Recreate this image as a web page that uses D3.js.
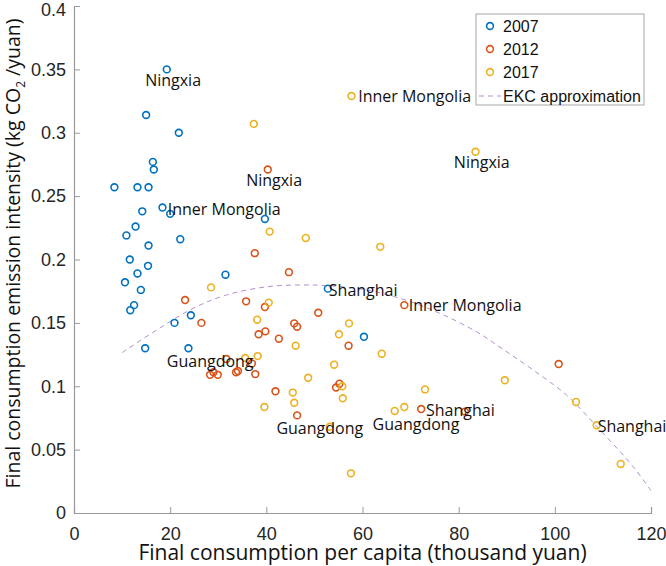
<!DOCTYPE html>
<html>
<head>
<meta charset="utf-8">
<script src="https://cdn.jsdelivr.net/npm/d3@7/dist/d3.min.js"></script>
<style>
  html, body { margin: 0; padding: 0; background: #fff; }
  svg { display: block; }
</style>
</head>
<body>
<svg id="chart" width="666" height="566"></svg>
<script>
// ---------- data ----------
const series2007x = [19.3, 15.0, 21.8, 16.4, 16.6, 8.4, 13.2, 15.5, 14.2, 18.4, 20.0, 39.7, 12.8, 10.9, 22.1, 15.5, 11.6, 15.4, 13.2, 10.6, 31.5, 13.9, 12.5, 11.7, 24.3, 20.9, 14.8, 23.8, 52.8, 60.3];
const series2007y = [0.350, 0.314, 0.300, 0.277, 0.271, 0.257, 0.257, 0.257, 0.238, 0.241, 0.236, 0.232, 0.226, 0.219, 0.216, 0.211, 0.200, 0.195, 0.189, 0.182, 0.188, 0.176, 0.164, 0.160, 0.156, 0.150, 0.130, 0.130, 0.177, 0.139];

const series2012x = [40.3, 37.6, 44.7, 23.1, 35.8, 39.7, 26.5, 45.8, 46.4, 38.4, 39.8, 42.6, 31.7, 37.0, 28.3, 29.0, 29.9, 33.7, 34.1, 37.7, 41.9, 46.4, 68.7, 50.8, 57.1, 54.5, 55.2, 72.2, 81.3, 100.8];
const series2012y = [0.271, 0.205, 0.190, 0.168, 0.167, 0.1625, 0.150, 0.1496, 0.147, 0.141, 0.1433, 0.1375, 0.1215, 0.118, 0.109, 0.111, 0.109, 0.111, 0.112, 0.1096, 0.096, 0.077, 0.164, 0.158, 0.132, 0.099, 0.102, 0.082, 0.080, 0.1175];

const series2017x = [37.4, 40.7, 57.7, 83.5, 48.2, 63.7, 28.5, 40.5, 38.1, 57.2, 55.1, 46.1, 64.0, 54.1, 48.7, 55.8, 45.5, 45.8, 39.6, 55.9, 73.0, 66.7, 68.7, 53.2, 57.6, 89.6, 104.4, 108.7, 113.7, 35.6, 38.2];
const series2017y = [0.307, 0.222, 0.329, 0.285, 0.217, 0.210, 0.178, 0.166, 0.1525, 0.1496, 0.141, 0.132, 0.1257, 0.117, 0.1067, 0.100, 0.095, 0.087, 0.0836, 0.0905, 0.0975, 0.0805, 0.0836, 0.068, 0.0313, 0.1047, 0.0876, 0.0692, 0.0387, 0.1223, 0.1238];

const ekcX = [10, 17.2, 24.8, 31.7, 40.1, 47.0, 52, 60, 67.8, 76.1, 83.7, 89.3, 95.5, 102.4, 109.4, 116.3, 120];
const ekcY = [0.1265, 0.1444, 0.1615, 0.172, 0.1785, 0.1799, 0.1795, 0.1765, 0.1694, 0.1575, 0.143, 0.129, 0.1128, 0.0931, 0.0655, 0.0365, 0.0176];

const labelText = ["Ningxia", "Ningxia", "Ningxia", "Inner Mongolia", "Inner Mongolia", "Inner Mongolia", "Shanghai", "Shanghai", "Shanghai", "Guangdong", "Guangdong", "Guangdong"];
const labelX = [14.8, 35.8, 79.0, 19.5, 59.1, 69.6, 53.0, 73.2, 108.9, 19.3, 42.1, 62.1];
const labelY = [0.3416, 0.2627, 0.2766, 0.2398, 0.3287, 0.1638, 0.1759, 0.0812, 0.0681, 0.1199, 0.0668, 0.0700];

const xTicks = [0, 20, 40, 60, 80, 100, 120];
const yTicks = [0, 0.05, 0.1, 0.15, 0.2, 0.25, 0.3, 0.35, 0.4];
const yTickLabels = ["0", "0.05", "0.1", "0.15", "0.2", "0.25", "0.3", "0.35", "0.4"];
const legendNames = ["2007", "2012", "2017", "EKC approximation"];

// ---------- styles ----------
const colors = ["#0072BD", "#D95319", "#EDB120"];
const ekcColor = "#B58ED0";
const axisColor = "#9a9a9a";
const textColor = "#262626";

const svg = d3.select("#chart");
svg.append("rect").attr("width", 666).attr("height", 566).attr("fill", "#fff");

const x = d3.scaleLinear().domain([0, 120]).range([74, 651]);
const y = d3.scaleLinear().domain([0, 0.4]).range([513, 6]);

// axes
const xAxis = d3.axisBottom(x).tickValues(xTicks).tickFormat(d3.format("d")).tickSize(-6).tickPadding(14);
const yAxis = d3.axisLeft(y).tickValues(yTicks).tickFormat((d, i) => yTickLabels[i]).tickSize(-6).tickPadding(8);

const gx = svg.append("g").attr("transform", `translate(0,${y(0)})`).call(xAxis);
const gy = svg.append("g").attr("transform", `translate(${x(0)},0)`).call(yAxis);
[gx, gy].forEach(g => {
  g.select(".domain").attr("stroke", axisColor).attr("stroke-width", 1.2);
  g.selectAll(".tick line").attr("stroke", axisColor).attr("stroke-width", 1);
  g.selectAll(".tick text").attr("fill", textColor)
    .style("font-family", "'Liberation Sans', Arial, sans-serif").style("font-size", "18px");
});
// keep the top tick label inside the picture
gy.selectAll(".tick text").filter(d => d === 0.4).attr("dy", "0.5em");

// EKC curve
const line = d3.line().x(d => x(d[0])).y(d => y(d[1])).curve(d3.curveCatmullRom);
svg.append("path")
  .datum(ekcX.map((v, i) => [v, ekcY[i]]))
  .attr("d", line)
  .attr("fill", "none")
  .attr("stroke", ekcColor)
  .attr("stroke-width", 1)
  .attr("stroke-dasharray", "5,4");

// scatter series
const allSeries = [
  { xs: series2007x, ys: series2007y, c: colors[0] },
  { xs: series2012x, ys: series2012y, c: colors[1] },
  { xs: series2017x, ys: series2017y, c: colors[2] }
];
allSeries.forEach(s => {
  svg.append("g").selectAll("circle")
    .data(s.xs.map((v, i) => [v, s.ys[i]]))
    .join("circle")
    .attr("cx", d => x(d[0]))
    .attr("cy", d => y(d[1]))
    .attr("r", 3.4)
    .attr("fill", "none")
    .attr("stroke", s.c)
    .attr("stroke-width", 1.6);
});

// province labels
svg.append("g").selectAll("text")
  .data(labelText.map((t, i) => ({ t, x: labelX[i], y: labelY[i] })))
  .join("text")
  .attr("x", d => x(d.x))
  .attr("y", d => y(d.y))
  .attr("dy", "0.35em")
  .attr("fill", "#111")
  .style("font-family", "'Open Sans', sans-serif")
  .style("font-size", "16px")
  .text(d => d.t);

// axis titles
svg.append("text")
  .attr("x", (x(0) + x(120)) / 2)
  .attr("y", 560)
  .attr("text-anchor", "middle")
  .attr("fill", "#111")
  .style("font-family", "'Open Sans', sans-serif")
  .style("font-size", "21px")
  .text("Final consumption per capita (thousand yuan)");

const yt = svg.append("text")
  .attr("transform", `translate(20,${(y(0) + y(0.4)) / 2 - 6}) rotate(-90)`)
  .attr("text-anchor", "middle")
  .attr("fill", "#111")
  .style("font-family", "'Open Sans', sans-serif")
  .style("font-size", "19.5px");
yt.append("tspan").text("Final consumption emission intensity (kg CO");
yt.append("tspan").attr("dy", 5).style("font-size", "12px").text("2");
yt.append("tspan").attr("dy", -5).text(" /yuan)");

// legend
const lg = svg.append("g");
lg.append("rect").attr("x", 476).attr("y", 14).attr("width", 168).attr("height", 91)
  .attr("fill", "#fff").attr("stroke", "#a6a6a6").attr("stroke-width", 1);
const rowY = [26, 49, 72, 96];
legendNames.forEach((name, i) => {
  if (i < 3) {
    lg.append("circle").attr("cx", 490).attr("cy", rowY[i]).attr("r", 3.4)
      .attr("fill", "none").attr("stroke", colors[i]).attr("stroke-width", 1.6);
  } else {
    lg.append("line").attr("x1", 479).attr("x2", 501).attr("y1", rowY[i]).attr("y2", rowY[i])
      .attr("stroke", ekcColor).attr("stroke-width", 1).attr("stroke-dasharray", "5,4");
  }
  lg.append("text").attr("x", 503).attr("y", rowY[i]).attr("dy", "0.35em")
    .attr("fill", "#111")
    .style("font-family", "'Liberation Sans', Arial, sans-serif").style("font-size", "16px")
    .text(name);
});
</script>
</body>
</html>
